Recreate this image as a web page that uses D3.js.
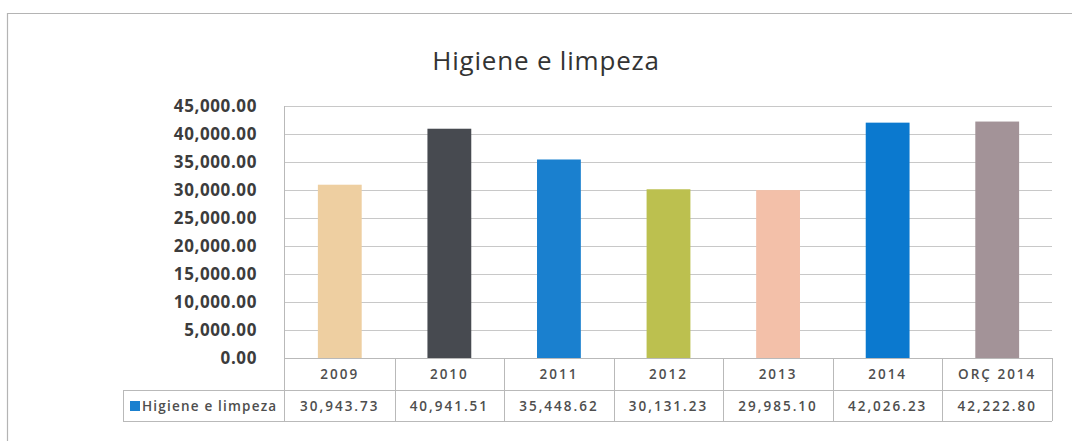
<!DOCTYPE html>
<html>
<head>
<meta charset="utf-8">
<script src="https://cdn.jsdelivr.net/npm/d3@7"></script>
<style>
  body { margin: 0; background: #fff; }
  svg { display: block; font-family: "Open Sans", Lato, sans-serif; }
</style>
</head>
<body>
<div id="chart"></div>
<script>
// data
const categories = ["2009", "2010", "2011", "2012", "2013", "2014", "ORÇ 2014"];
const values = [30943.73, 40941.51, 35448.62, 30131.23, 29985.10, 42026.23, 42222.80];
const barColors = ["#eecfa1", "#474a50", "#1a80cf", "#bcc04f", "#f3c0a9", "#0b79cf", "#a39398"];
const seriesName = "Higiene e limpeza";
const yTicks = [0, 5000, 10000, 15000, 20000, 25000, 30000, 35000, 40000, 45000];

const width = 1072, height = 441;
const plot = { left: 285, right: 1052, top: 106, bottom: 358 };
const table = { left: 123, row1: 390, row2: 421 };

const svg = d3.select("#chart").append("svg")
    .attr("width", width)
    .attr("height", height);

// outer chart frame
svg.append("path")
    .attr("d", `M7.5,${height} V13.5 H${width}`)
    .attr("fill", "none")
    .attr("stroke", "#b4b4b4")
    .attr("stroke-width", 1.2);

// title
svg.append("text")
    .attr("x", 546)
    .attr("y", 70)
    .attr("text-anchor", "middle")
    .style("font-size", "26px")
    .style("letter-spacing", "0.8px")
    .style("fill", "#333")
    .text("Higiene e limpeza");

const x = d3.scaleBand()
    .domain(categories)
    .range([plot.left, plot.right])
    .paddingInner(0.6)
    .paddingOuter(0.3);

const y = d3.scaleLinear()
    .domain([0, 45000])
    .range([plot.bottom, plot.top]);

const fmt = d3.format(",.2f");

// gridlines
svg.append("g")
    .selectAll("line")
    .data(yTicks)
    .join("line")
    .attr("x1", plot.left)
    .attr("x2", plot.right)
    .attr("y1", d => Math.round(y(d)) + 0.5)
    .attr("y2", d => Math.round(y(d)) + 0.5)
    .attr("stroke", "#c8c8c8")
    .attr("stroke-width", 1);

// y axis labels
const yAxis = d3.axisLeft(y)
    .tickValues(yTicks)
    .tickFormat(fmt)
    .tickSize(0)
    .tickPadding(28);

const yg = svg.append("g")
    .attr("transform", `translate(${plot.left},0)`)
    .call(yAxis);
yg.select(".domain").remove();
yg.selectAll("text")
    .style("font-family", "'Open Sans', sans-serif")
    .style("font-size", "17px")
    .style("font-weight", "bold")
    .style("letter-spacing", "0.6px")
    .style("fill", "#3c3c3c");

// bars
svg.append("g")
    .selectAll("rect")
    .data(values)
    .join("rect")
    .attr("x", (d, i) => x(categories[i]))
    .attr("y", d => y(d))
    .attr("width", x.bandwidth())
    .attr("height", d => y(0) - y(d))
    .attr("fill", (d, i) => barColors[i]);

// data table under the plot
const step = x.step();
const colEdge = i => plot.left + i * step;
const lineColor = "#b9b9b9";
const tg = svg.append("g");

// horizontal lines
tg.append("line")
    .attr("x1", plot.left).attr("x2", plot.right)
    .attr("y1", plot.bottom + 0.5).attr("y2", plot.bottom + 0.5)
    .attr("stroke", lineColor);
[table.row1, table.row2].forEach(yy => {
    tg.append("line")
        .attr("x1", table.left).attr("x2", plot.right)
        .attr("y1", yy + 0.5).attr("y2", yy + 0.5)
        .attr("stroke", lineColor);
});

// vertical lines
tg.append("line")
    .attr("x1", plot.left - 0.5).attr("x2", plot.left - 0.5)
    .attr("y1", plot.top).attr("y2", table.row2)
    .attr("stroke", lineColor);
tg.append("line")
    .attr("x1", table.left + 0.5).attr("x2", table.left + 0.5)
    .attr("y1", table.row1).attr("y2", table.row2)
    .attr("stroke", lineColor);
tg.selectAll(".col-edge")
    .data(d3.range(1, categories.length + 1))
    .join("line")
    .attr("class", "col-edge")
    .attr("x1", i => Math.round(colEdge(i)) + 0.5)
    .attr("x2", i => Math.round(colEdge(i)) + 0.5)
    .attr("y1", plot.bottom)
    .attr("y2", table.row2)
    .attr("stroke", lineColor);

const cellText = sel => sel
    .style("font-size", "13.5px")
    .style("font-weight", "600")
    .style("letter-spacing", "2px")
    .style("fill", "#4e4e4e");

// header row (categories)
tg.selectAll(".cat")
    .data(categories)
    .join("text")
    .attr("class", "cat")
    .attr("x", d => x(d) + x.bandwidth() / 2)
    .attr("y", 379)
    .attr("text-anchor", "middle")
    .call(cellText)
    .text(d => d);

// value row
tg.selectAll(".val")
    .data(values)
    .join("text")
    .attr("class", "val")
    .attr("x", (d, i) => x(categories[i]) + x.bandwidth() / 2)
    .attr("y", 411)
    .attr("text-anchor", "middle")
    .call(cellText)
    .text(d => fmt(d));

// legend key in the table
tg.append("rect")
    .attr("x", 130)
    .attr("y", 401)
    .attr("width", 10)
    .attr("height", 10)
    .attr("fill", "#1a80cf");
tg.append("text")
    .attr("x", 142)
    .attr("y", 411)
    .call(cellText)
    .style("letter-spacing", "1.2px")
    .text(seriesName);
</script>
</body>
</html>
